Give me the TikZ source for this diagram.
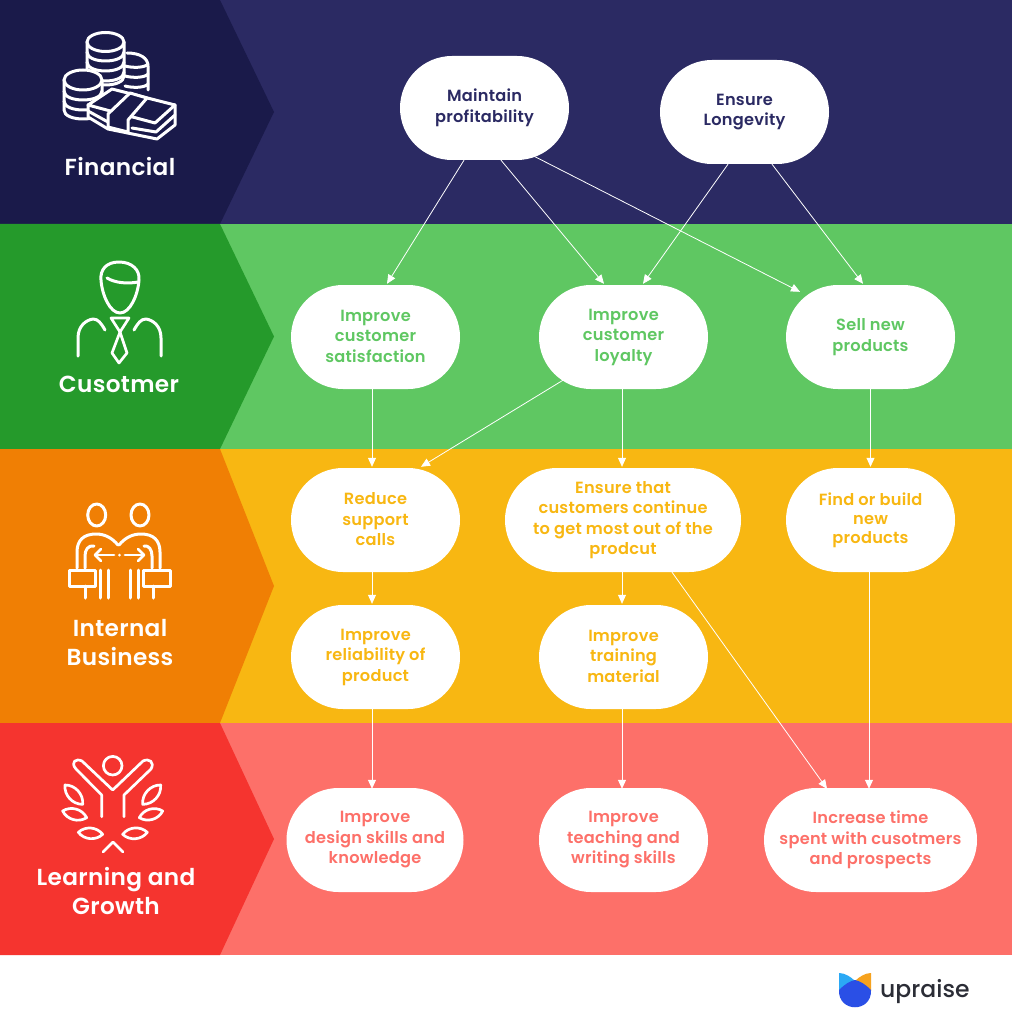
\documentclass[tikz,border=0pt]{standalone}
\usepackage{fontspec}
\setmainfont{Poppins}[BoldFont={Poppins SemiBold},LetterSpace=1.5]
\newfontfamily\logofont{Poppins Medium}
\definecolor{navyD}{HTML}{1A1A4A}\definecolor{navyL}{HTML}{2B2A63}
\definecolor{greenD}{HTML}{259A2B}\definecolor{greenL}{HTML}{5FC762}
\definecolor{orangeD}{HTML}{F07F04}\definecolor{orangeL}{HTML}{F8B712}
\definecolor{redD}{HTML}{F5342F}\definecolor{redL}{HTML}{FD7069}
\definecolor{logotext}{HTML}{2B2D36}
\definecolor{logoblue}{HTML}{2A4FE6}\definecolor{logosky}{HTML}{2BA9F5}\definecolor{logoorange}{HTML}{F6A21E}
\newcommand{\coinarc}[4]{\draw[icon] ({#1-#3},#2) .. controls ({#1-#3},{#2+#4}) and ({#1+#3},{#2+#4}) .. ({#1+#3},#2);}
\newcommand{\leaf}[4]{\draw[iconthin] ({50+#1/3},{745+#2/3}) to[bend left=48] ({50+#3/3},{745+#4/3}) to[bend left=48] cycle;}
\newcommand{\sx}{\vrule height 11pt depth 1.5pt width 0pt }
\newcommand{\sxup}{\vrule height 11pt depth 4.5pt width 0pt }
\usetikzlibrary{arrows.meta}
\tikzset{
  pill/.style={fill=white,rounded corners=52pt,minimum width=169,minimum height=104,align=center,inner sep=0pt,font=\fontsize{16.2}{20.5}\selectfont\bfseries},
  heading/.style={text=white,align=center,inner sep=0pt,font=\fontsize{23.2}{29}\selectfont\bfseries},
  link/.style={white,line width=0.8pt,-{Stealth[length=9pt,width=8pt,inset=0pt]}},
  icon/.style={white,line width=3pt,line cap=round,line join=round},
  iconthin/.style={white,line width=2.7pt,line cap=round,line join=round},
}
\begin{document}
\begin{tikzpicture}[x=1pt,y=-1pt]
\useasboundingbox (0,0) rectangle (1012,1024);
\fill[white] (0,0) rectangle (1012,1024);
% bands
\fill[navyL] (0,0) rectangle (1012,224);
\fill[greenL] (0,224) rectangle (1012,449);
\fill[orangeL] (0,449) rectangle (1012,723);
\fill[redL] (0,723) rectangle (1012,955);
\fill[navyD] (0,0) -- (220,0) -- (274,112) -- (220,224) -- (0,224) -- cycle;
\fill[greenD] (0,224) -- (220,224) -- (274,336.5) -- (220,449) -- (0,449) -- cycle;
\fill[orangeD] (0,449) -- (220,449) -- (274,586) -- (220,723) -- (0,723) -- cycle;
\fill[redD] (0,723) -- (220,723) -- (274,839) -- (220,955) -- (0,955) -- cycle;
% headings
\node[heading] (hf) at (120,167) {Financial};
\node[heading] (hc) at (119,384) {Cusotmer};
\node[heading] (hi) at (120,642.5) {Internal\\Business};
\node[heading] (hl) at (116,890.5) {Learning and\\Growth};
% nodes
\node[pill,text=navyL] (mp) at (484.5,108) {\sx Maintain\\\sx profitability};
\node[pill,text=navyL] (el) at (744.5,112) {\sx Ensure\\\sx Longevity};
\node[pill,text=greenL] (cs) at (375.5,337) {\sx Improve\\customer\\\sx satisfaction};
\node[pill,text=greenL] (cl) at (623.5,337) {\sx Improve\\customer\\\sx loyalty};
\node[pill,text=greenL] (sn) at (870.5,337) {\sx Sell new\\\sx products};
\node[pill,text=orangeL] (rs) at (375.5,520) {\sx Reduce\\support\\\sx calls};
\node[pill,text=orangeL,minimum width=236] (et) at (623,520) {\sx Ensure that\\customers continue\\to get most out of the\\\sx prodcut};
\node[pill,text=orangeL] (fb) at (870.5,520) {\sx Find or build\\[-1.5pt]new\\[-1.5pt]\sxup products};
\node[pill,text=orangeL] (ir) at (375.5,657) {\sx Improve\\reliability of\\\sx product};
\node[pill,text=orangeL] (tm) at (623.5,657) {\sx Improve\\training\\\sx material};
\node[pill,text=redL,minimum width=177] (ds) at (375,840) {\sx Improve\\design skills and\\\sx knowledge};
\node[pill,text=redL] (ts) at (623.5,840) {\sx Improve\\teaching and\\\sx writing skills};
\node[pill,text=redL,minimum width=213] (inc) at (870.5,840) {\sx Increase time\\spent with cusotmers\\\sx and prospects};
% connectors
\draw[link] ([xshift=-20.5pt]mp.south) -- ([xshift=11.5pt,yshift=1pt]cs.north);
\draw[link] ([xshift=16.5pt]mp.south) -- ([xshift=-19.5pt,yshift=1pt]cl.north);
\draw[link] ([xshift=49.5pt,yshift=4pt]mp.south) -- ([xshift=-70.5pt,yshift=-7pt]sn.north);
\draw[link] ([xshift=-16.5pt]el.south) -- ([xshift=19.5pt,yshift=1pt]cl.north);
\draw[link] ([xshift=27.5pt]el.south) -- ([xshift=-7.5pt,yshift=1pt]sn.north);
\draw[link] ([xshift=-3.5pt]cs.south) -- ([xshift=-3.5pt,yshift=1pt]rs.north);
\draw[link] ([xshift=-60.5pt,yshift=9pt]cl.south) -- ([xshift=45.5pt,yshift=1pt]rs.north);
\draw[link] ([xshift=-1.5pt]cl.south) -- ([xshift=-1pt,yshift=1pt]et.north);
\draw[link] (sn.south) -- ([yshift=1pt]fb.north);
\draw[link] ([xshift=-3.5pt]rs.south) -- ([xshift=-3.5pt,yshift=1pt]ir.north);
\draw[link] ([xshift=-1pt]et.south) -- ([xshift=-1.5pt,yshift=1pt]tm.north);
\draw[link] ([xshift=49pt]et.south) -- ([xshift=-43.5pt,yshift=-1pt]inc.north);
\draw[link] ([xshift=-1.5pt]fb.south) -- ([xshift=-1.5pt,yshift=-1pt]inc.north);
\draw[link] ([xshift=-3.5pt]ir.south) -- ([xshift=-3pt,yshift=-1pt]ds.north);
\draw[link] ([xshift=-1.5pt]tm.south) -- ([xshift=-1.5pt,yshift=-1pt]ts.north);
% --- financial icon
\draw[icon] (127,53) .. controls (140,53) and (148,58) .. (148,66) -- (148,90);
\draw[icon] (125,66) .. controls (132,68) and (145,68) .. (148,64);
\draw[icon] (125,76) .. controls (132,78) and (145,78) .. (148,74);
\draw[icon] (125,86) .. controls (132,88) and (145,88) .. (148,84);
\draw[icon,fill=navyD] (87,42) -- (87,76) .. controls (87,88) and (124,88) .. (124,76) -- (124,42);
\draw[icon,fill=navyD] (105.5,42) ellipse [x radius=18.5,y radius=9.5];
\coinarc{105.5}{52}{18.5}{12}
\coinarc{105.5}{62}{18.5}{12}
\coinarc{105.5}{72}{18.5}{12}
\draw[icon,fill=navyD] (64,80) -- (64,110) .. controls (64,122) and (102,122) .. (102,110) -- (102,80);
\draw[icon,fill=navyD] (83,80) ellipse [x radius=19,y radius=10];
\coinarc{83}{91}{19}{12}
\coinarc{83}{101}{19}{12}
% money stack
\draw[icon,fill=navyD] (88,105) -- (88,117) -- (108,129) -- (157,139) -- (175,125) -- (175,105) -- cycle;
\draw[icon] (88,111) -- (108,122);
\draw[icon] (132,128) -- (156,132) -- (175,115);
\draw[icon,fill=navyD] (88,105) -- (112,89) -- (175,105) -- (155,123) -- cycle;
\draw[icon,fill=navyD] (108,114) -- (130,93) -- (147,98) -- (128,120) -- (128,132) -- (108,127) -- cycle;
% --- customer icon
\draw[icon] (119,262) .. controls (106,262) and (100,270) .. (101,280) .. controls (102,295) and (110,313) .. (120,313) .. controls (130,313) and (138,295) .. (139,280) .. controls (140,270) and (132,262) .. (119,262) -- cycle;
\draw[icon] (107,278) .. controls (115,283) and (128,284) .. (138,282);
\draw[icon] (78,356) -- (78,338) .. controls (78,326) and (86,320) .. (93,319) .. controls (98,319) and (101,323) .. (105,330);
\draw[icon] (161,356) -- (161,338) .. controls (161,326) and (153,320) .. (146,319) .. controls (141,319) and (138,323) .. (134,330);
\draw[iconthin] (111,318) -- (129,318) -- (120,332) -- cycle;
\draw[iconthin] (120,332) -- (112,353) -- (119,363) -- (127,353) -- cycle;
% --- internal icon
\draw[icon] (96.7,515) ellipse [x radius=9,y radius=11];
\draw[icon] (140,515) ellipse [x radius=9,y radius=11];
\draw[icon] (77,568) -- (77,552) .. controls (77,540) and (84,534) .. (96,534) .. controls (105,534) and (112,538) .. (118,545);
\draw[icon] (85,568) -- (85,556) .. controls (85,550) and (88,545) .. (94,546);
\draw[icon] (160,568) -- (160,552) .. controls (160,540) and (153,534) .. (141,534) .. controls (132,534) and (125,538) .. (119,545);
\draw[icon] (152,568) -- (152,556) .. controls (152,550) and (149,545) .. (144,546);
\draw[iconthin] (114,555) -- (95,555);
\draw[iconthin] (101,549) -- (95,555) -- (101,561);
\draw[iconthin] (125,555) -- (144,555);
\draw[iconthin] (138,549) -- (144,555) -- (138,561);
\fill[white] (119.5,555) circle (1.5);
\draw[icon] (69,570) rectangle (95,586);
\draw[icon] (143,570) rectangle (170,586);
\draw[icon] (85,586) -- (85,598);
\draw[icon] (153,586) -- (153,598);
\draw[icon] (100,570) -- (100,598);
\draw[icon] (108,570) -- (108,598);
\draw[icon] (130,570) -- (130,598);
\draw[icon] (138,570) -- (138,598);
% --- learning icon
\draw[iconthin] (112.7,765.7) circle (9.3);
\draw[iconthin] (101.7,816.7) -- (101.7,795) -- (76,769) .. controls (70,762) and (76,758) .. (82,761) -- (112.7,790) -- (143,761) .. controls (149,758) and (155,762) .. (151,769) -- (124,795) -- (124,816.7);
\leaf{45}{120}{98}{178}
\leaf{278}{178}{332}{120}
\leaf{38}{198}{110}{218}
\leaf{268}{218}{338}{198}
\leaf{85}{262}{158}{268}
\leaf{218}{268}{292}{262}
\draw[iconthin] (103,852) -- (113,842) -- (123,852);
% --- logo
\fill[logosky] (839,973) .. controls (845,973) and (851,977) .. (855,981) -- (839,991) -- cycle;
\fill[logoorange] (871,973) .. controls (865,973) and (859,977) .. (855,981) -- (871,991) -- cycle;
\fill[logoblue] (839,990) .. controls (845,984) and (850,981) .. (855,980) .. controls (860,981) and (865,984) .. (871,990) .. controls (872,1013) and (838,1013) .. (839,990) -- cycle;
\node[text=logotext,anchor=base west,inner sep=0pt,font=\fontsize{23.5}{24}\selectfont\logofont] (logo) at (880,997) {upraise};
\end{tikzpicture}
\end{document}
